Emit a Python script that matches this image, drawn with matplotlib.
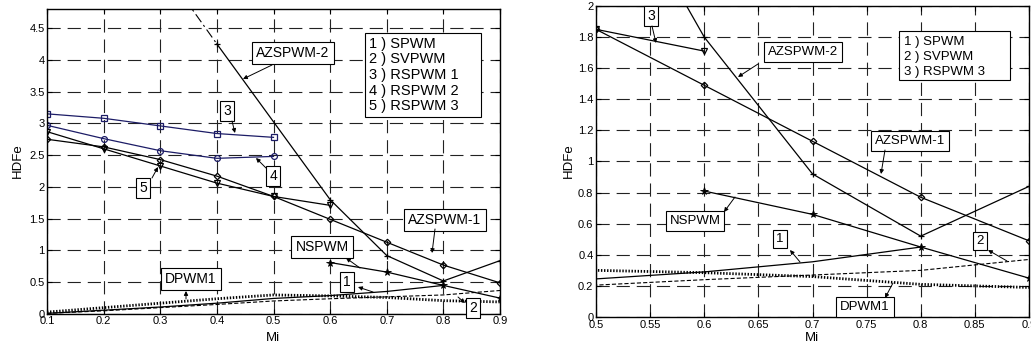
import matplotlib
matplotlib.use('Agg')
import matplotlib.pyplot as plt
from matplotlib.patches import Rectangle

plt.rcParams['font.family'] = ['Liberation Sans', 'DejaVu Sans']
plt.rcParams['lines.scale_dashes'] = False

W, H = 1031, 345

# ---------------- data ----------------
mi_full = [0.1, 0.2, 0.3, 0.4, 0.5, 0.6, 0.7, 0.8, 0.9]
mi_low = [0.1, 0.2, 0.3, 0.4, 0.5]
mi_rs3 = [0.1, 0.2, 0.3, 0.4, 0.5, 0.6]
mi_az2 = [0.4, 0.6, 0.7, 0.8, 0.9]
mi_az2_ext = [0.3, 0.4]
mi_ns = [0.6, 0.7, 0.8, 0.9]
mi_sp = [0.1, 0.2, 0.3, 0.4, 0.5, 0.6, 0.7, 0.8]

rspwm1 = [3.15, 3.08, 2.96, 2.84, 2.78]
rspwm2 = [2.97, 2.76, 2.57, 2.45, 2.48]
rspwm3 = [2.87, 2.60, 2.33, 2.06, 1.85, 1.71]
azspwm1 = [2.75, 2.63, 2.43, 2.17, 1.85, 1.49, 1.13, 0.77, 0.49]
azspwm2 = [4.25, 1.80, 0.92, 0.52, 0.84]
azspwm2_ext = [5.5, 4.25]
nspwm = [0.81, 0.66, 0.45, 0.25]
spwm = [0.01, 0.06, 0.11, 0.17, 0.245, 0.29, 0.355, 0.45]
svpwm = [0.01, 0.05, 0.10, 0.15, 0.205, 0.24, 0.27, 0.30, 0.37]
dpwm1 = [0.03, 0.10, 0.17, 0.24, 0.30, 0.285, 0.26, 0.21, 0.19]

left_xticks = [0.1, 0.2, 0.3, 0.4, 0.5, 0.6, 0.7, 0.8, 0.9]
left_xlabels = ['0.1', '0.2', '0.3', '0.4', '0.5', '0.6', '0.7', '0.8', '0.9']
left_yticks = [0, 0.5, 1, 1.5, 2, 2.5, 3, 3.5, 4, 4.5]
left_ylabels = ['0', '0.5', '1', '1.5', '2', '2.5', '3', '3.5', '4', '4.5']
right_xticks = [0.5, 0.55, 0.6, 0.65, 0.7, 0.75, 0.8, 0.85, 0.9]
right_xlabels = ['0.5', '0.55', '0.6', '0.65', '0.7', '0.75', '0.8', '0.85', '0.9']
right_yticks = [0, 0.2, 0.4, 0.6, 0.8, 1, 1.2, 1.4, 1.6, 1.8, 2]
right_ylabels = ['0', '0.2', '0.4', '0.6', '0.8', '1', '1.2', '1.4', '1.6', '1.8', '2']

legend_left = ['1 ) SPWM', '2 ) SVPWM', '3 ) RSPWM 1', '4 ) RSPWM 2', '5 ) RSPWM 3']
legend_right = ['1 ) SPWM', '2 ) SVPWM', '3 ) RSPWM 3']

NAVY = '#1c1c66'

fig = plt.figure(figsize=(W / 100, H / 100), dpi=100)


def F(x, y):
    return (x / W, 1 - y / H)


def axes_px(x0, y0, x1, y1):
    return fig.add_axes([x0 / W, 1 - y1 / H, (x1 - x0) / W, (y1 - y0) / H])


def draw(ax, lw=0.9):
    ax.plot(mi_low, rspwm1, color=NAVY, lw=lw, marker='s', mfc='none', mec=NAVY, ms=4.5, mew=0.9)
    ax.plot(mi_low, rspwm2, color=NAVY, lw=lw, marker='o', mfc='none', mec=NAVY, ms=4.2, mew=0.9)
    ax.plot(mi_rs3, rspwm3, color='k', lw=lw, marker='v', mfc='none', mec='k', ms=4.5, mew=0.9)
    ax.plot(mi_full, azspwm1, color='k', lw=lw, marker='D', mfc='none', mec='k', ms=3.3, mew=0.9)
    ax.plot(mi_az2, azspwm2, color='k', lw=lw, marker='+', ms=5, mew=0.9)
    ax.plot(mi_az2_ext, azspwm2_ext, color='k', lw=0.8, linestyle=(0, (7, 2.5, 1.5, 2.5)))
    ax.plot(mi_ns, nspwm, color='k', lw=lw, marker='*', ms=5.5, mew=0.6)
    ax.plot(mi_sp, spwm, color='k', lw=lw)
    ax.plot(mi_full, svpwm, color='k', lw=0.8, linestyle=(0, (3, 1.5)))
    ax.plot(mi_full, dpwm1, color='k', lw=2.0, linestyle=(0, (1, 1.2)))


def style(ax, xt, xl, yt, yl, xlim, ylim):
    ax.set_xlim(*xlim)
    ax.set_ylim(*ylim)
    ax.set_xticks(xt)
    ax.set_xticklabels(xl)
    ax.set_yticks(yt)
    ax.set_yticklabels(yl)
    ax.grid(True, color='#222222', lw=0.8, linestyle=(0, (9.5, 5)))
    ax.tick_params(direction='in', length=3.5, width=0.8, labelsize=8,
                   top=True, right=True, pad=1.8)
    for s in ax.spines.values():
        s.set_linewidth(1.0)


def box(text, cx, cy, fs=10, pad=0.3):
    fig.text(*F(cx, cy), text, ha='center', va='center', fontsize=fs, zorder=10,
             bbox=dict(boxstyle='square,pad=%s' % pad, fc='white', ec='black', lw=0.8))


def arrow(tail, head):
    fig.add_artist(matplotlib.patches.FancyArrowPatch(
        F(*tail), F(*head), transform=fig.transFigure, arrowstyle='-|>',
        mutation_scale=6, lw=0.7, color='k', shrinkA=0, shrinkB=0, zorder=11))


# ---------------- left axes ----------------
axL = axes_px(47, 9, 500, 314)
draw(axL)
style(axL, left_xticks, left_xlabels, left_yticks, left_ylabels, (0.1, 0.9), (0, 4.8))

# ---------------- right axes ----------------
axR = axes_px(596, 6, 1029, 317)
draw(axR)
style(axR, right_xticks, right_xlabels, right_yticks, right_ylabels, (0.5, 0.9), (0, 2))

# axis labels
fig.text(*F(18, 161), 'HDFe', rotation=90, ha='center', va='center', fontsize=9.5)
fig.text(*F(273, 338), 'Mi', ha='center', va='center', fontsize=9.5)
fig.text(*F(569, 161), 'HDFe', rotation=90, ha='center', va='center', fontsize=9.5)
fig.text(*F(812, 338), 'Mi', ha='center', va='center', fontsize=9.5)

# ---------------- left annotations ----------------
box('AZSPWM-2', 293, 53)
arrow((272, 65), (243, 79))
box('3', 227, 111, pad=0.25)
arrow((232, 121), (235, 133))
box('4', 273, 176, pad=0.25)
arrow((266, 168), (256, 158))
box('5', 143, 188, pad=0.25)
arrow((152, 178), (158, 167))
box('DPWM1', 191, 279)
arrow((186, 299), (186, 291))
box('NSPWM', 322, 247)
arrow((360, 268), (346, 258))
box('1', 347, 282, pad=0.25)
arrow((373, 292), (358, 287))
box('2', 473, 308, pad=0.25)
arrow((458, 297), (465, 303))
box('AZSPWM-1', 445, 220)
arrow((435, 229), (432, 253))

fig.add_artist(Rectangle(F(365, 117), 116 / W, 84 / H, transform=fig.transFigure,
                         fc='white', ec='black', lw=0.8, zorder=9))
for i, t in enumerate(legend_left):
    fig.text(*F(369, 44 + i * 15.5), t, ha='left', va='center', fontsize=10.5, zorder=10)

# ---------------- right annotations ----------------
box('3', 651, 16, pad=0.25)
arrow((652, 26), (656, 43))
box('AZSPWM-2', 803, 52, fs=9.5)
arrow((758, 64), (738, 77))
box('AZSPWM-1', 910, 141, fs=9.5)
arrow((885, 150), (881, 174))
box('NSPWM', 695, 221, fs=9.5)
arrow((735, 197), (724, 212))
box('1', 780, 239, fs=9.5, pad=0.25)
arrow((800, 262), (790, 250))
box('2', 980, 241, fs=9.5, pad=0.25)
arrow((1007, 261), (988, 250))
box('DPWM1', 865, 307, fs=9.5)
arrow((893, 283), (885, 298))

fig.add_artist(Rectangle(F(899, 80), 111 / W, 49 / H, transform=fig.transFigure,
                         fc='white', ec='black', lw=0.8, zorder=9))
for i, t in enumerate(legend_right):
    fig.text(*F(904, 42 + i * 15), t, ha='left', va='center', fontsize=9.5, zorder=10)

fig.savefig('out.png', dpi=100)
